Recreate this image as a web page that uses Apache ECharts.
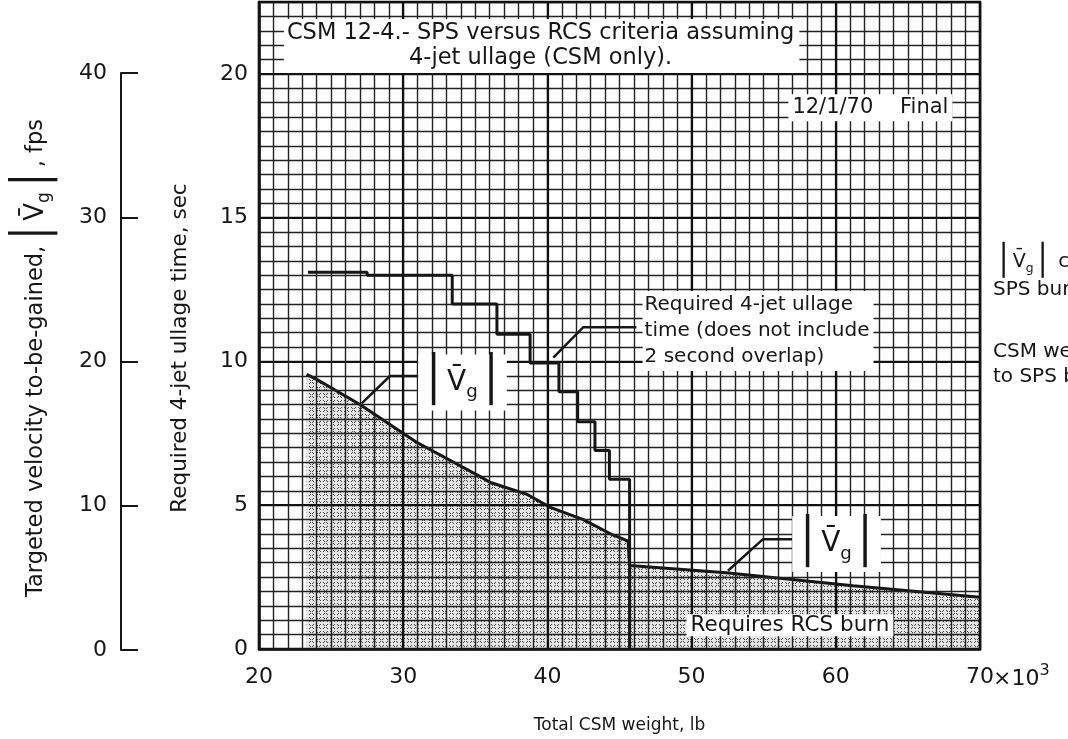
<!DOCTYPE html>
<html>
<head>
<meta charset="utf-8">
<script src="https://cdn.jsdelivr.net/npm/echarts@6/dist/echarts.min.js"></script>
<style>
  html, body { margin: 0; padding: 0; background: #fff; }
  #chart { width: 1068px; height: 739px; }
</style>
</head>
<body>
<div id="chart"></div>
<script>
// total CSM weight, thousands of lb
const ullageWeights = [23.4, 27.5, 33.4, 36.5, 38.8, 40.8, 42.1, 43.3, 44.3, 45.7]
// required 4-jet ullage time, sec (step curve)
const ullageTimes = [13.1, 13.0, 12.0, 10.95, 9.95, 8.95, 7.9, 6.9, 5.9, 0]

// |Vg| criterion, fps
const vgWeights = [23.3, 24.0, 27.0, 30.9, 35.5, 36.0, 38.6, 40.2, 42.5, 44.3, 45.6, 45.7, 52.4, 61.2, 70.0]
const vgFps = [19.1, 18.75, 17.0, 14.4, 11.9, 11.6, 10.75, 9.85, 9.0, 8.05, 7.5, 5.8, 5.3, 4.4, 3.6]

const xTicks = [20, 30, 40, 50, 60, 70]
const secTicks = [0, 5, 10, 15, 20]
const fpsTicks = [0, 10, 20, 30, 40]

const FONT = 'DejaVu Sans'
const INK = '#161616'

// stipple used under the |Vg| curve
const tile = document.createElement('canvas')
tile.width = 7
tile.height = 7
const tctx = tile.getContext('2d')
tctx.fillStyle = 'rgba(0,0,0,0.10)'
tctx.fillRect(0, 0, 7, 7)
tctx.fillStyle = 'rgba(40,40,40,0.85)'
;[[1, 1], [2, 2], [4, 4], [5, 5], [5, 1], [4, 2], [2, 4], [1, 5]].forEach(p => tctx.fillRect(p[0], p[1], 1, 1))

const chart = echarts.init(document.getElementById('chart'), null, { renderer: 'canvas' })

const option = {
  animation: false,
  backgroundColor: '#fff',
  grid: [
    { left: 259, right: 88, top: 2, bottom: 89, show: true, borderColor: INK, borderWidth: 2.5, backgroundColor: 'transparent', z: 1 },
    { left: 121, width: 1, top: 73, bottom: 89 }
  ],
  xAxis: [
    {
      gridIndex: 0, type: 'value', min: 20, max: 70, interval: 1, z: 1,
      axisLine: { show: true, lineStyle: { color: INK, width: 2.5 } },
      axisTick: { show: false }, axisLabel: { show: false },
      splitLine: { show: true, lineStyle: { color: '#222', width: 1.4 } },
      name: 'Total CSM weight, lb', nameLocation: 'middle', nameGap: 68,
      nameTextStyle: { fontFamily: FONT, fontSize: 17, color: INK }
    },
    {
      gridIndex: 0, type: 'value', min: 20, max: 70, interval: 10, position: 'bottom', z: 1,
      axisLine: { show: false }, axisTick: { show: false },
      axisLabel: {
        fontFamily: FONT, fontSize: 22, color: INK, margin: 17,
        formatter: v => (xTicks.indexOf(v) >= 0 ? String(v) : '')
      },
      splitLine: { show: true, lineStyle: { color: '#111', width: 2.2 } }
    },
    { gridIndex: 1, type: 'value', show: false, min: 0, max: 1 }
  ],
  yAxis: [
    {
      gridIndex: 0, type: 'value', min: 0, max: 22.5, interval: 0.5, z: 1,
      axisLine: { show: true, lineStyle: { color: INK, width: 2.5 } },
      axisTick: { show: false }, axisLabel: { show: false },
      splitLine: { show: true, lineStyle: { color: '#222', width: 1.4 } }
    },
    {
      gridIndex: 0, type: 'value', min: 0, max: 22.5, interval: 5, position: 'left', z: 1,
      axisLine: { show: false }, axisTick: { show: false },
      axisLabel: {
        fontFamily: FONT, fontSize: 22, color: INK, margin: 11,
        formatter: v => (secTicks.indexOf(v) >= 0 ? String(v) : '')
      },
      splitLine: { show: true, lineStyle: { color: '#111', width: 2.2 } }
    },
    { gridIndex: 0, type: 'value', min: 0, max: 45, show: false },
    {
      gridIndex: 1, type: 'value', min: 0, max: 40, interval: 10, position: 'left',
      axisLine: { show: true, lineStyle: { color: INK, width: 2 } },
      axisTick: { show: true, inside: true, length: 17, lineStyle: { color: INK, width: 2 } },
      axisLabel: {
        fontFamily: FONT, fontSize: 22, color: INK, margin: 14,
        formatter: v => (fpsTicks.indexOf(v) >= 0 ? String(v) : '')
      },
      splitLine: { show: false }
    }
  ],
  series: [
    {
      name: 'vg',
      type: 'line',
      xAxisIndex: 0, yAxisIndex: 2,
      data: vgWeights.map((w, i) => [w, vgFps[i]]),
      symbol: 'none',
      lineStyle: { color: INK, width: 3 },
      areaStyle: { color: { image: tile, repeat: 'repeat' }, opacity: 1 },
      z: 0
    },
    {
      name: 'ullage',
      type: 'line',
      xAxisIndex: 0, yAxisIndex: 0,
      data: ullageWeights.map((w, i) => [w, ullageTimes[i]]),
      step: 'end',
      symbol: 'none',
      lineStyle: { color: INK, width: 3 },
      z: 4
    }
  ]
}

chart.setOption(option)

// annotations, placed in data coordinates (weight, sec)
const px = p => chart.convertToPixel({ xAxisIndex: 0, yAxisIndex: 0 }, p)
const f = size => size + 'px "' + FONT + '"'

const vgRich = (size, textSize) => ({
  b: { fontFamily: FONT, fontSize: size * 1.6, fill: INK, lineHeight: size * 2 },
  v: { fontFamily: FONT, fontSize: size, fill: INK },
  g: { fontFamily: FONT, fontSize: size * 0.65, fill: INK, padding: [size * 0.7, 0, 0, 0] },
  t: { fontFamily: FONT, fontSize: textSize || 20, fill: INK }
})
const vgText = '{b|\u2502}{v|V\u0304}{g|g}{b|\u2502}'

const box = (at, text, opts) => {
  const p = px(at)
  return {
    type: 'text', z: 50,
    style: Object.assign({
      x: p[0], y: p[1], text: text,
      font: f(18), fill: INK,
      align: 'center', verticalAlign: 'middle',
      backgroundColor: '#fff', padding: [3, 5, 3, 5]
    }, opts || {})
  }
}
const leader = pts => ({
  type: 'polyline', z: 49,
  shape: { points: pts.map(px) },
  style: { stroke: INK, lineWidth: 2.5, fill: null }
})

const x70 = px([70, 0])

const graphic = [
  box([39.6, 20.97], 'CSM 12-4.- SPS versus RCS criteria assuming\n4-jet ullage (CSM only).', { font: f(22.5), lineHeight: 25, padding: [2, 5, 2, 3] }),
  box([62.4, 18.82], '12/1/70    Final', { font: f(21), padding: [3, 4, 3, 4] }),
  leader([[46.17, 11.19], [42.49, 11.19], [40.41, 10.13]]),
  box([46.6, 11.06], 'Required 4-jet ullage\ntime (does not include\n2 second overlap)', { font: f(20), lineHeight: 26, align: 'left', padding: [1, 4, 1, 2] }),
  leader([[32.32, 9.49], [29.08, 9.49], [27.12, 8.54]]),
  box([34.11, 9.27], vgText, { rich: vgRich(28), padding: [0, 2, 0, 2] }),
  leader([[58.21, 3.82], [54.95, 3.82], [52.52, 2.72]]),
  box([60.05, 3.65], vgText, { rich: vgRich(28), padding: [0, 2, 0, 2] }),
  box([56.82, 0.83], 'Requires RCS burn', { font: f(21.5), padding: [0, 4, 0, 4] }),
  // right-hand notes, cut by the page edge
  box([71.0, 13.47], vgText + '{t| criteria}', { rich: vgRich(19, 20), align: 'left', padding: 0, backgroundColor: null }),
  box([70.9, 12.5], 'SPS burn', { font: f(20), align: 'left', padding: 0, backgroundColor: null }),
  box([70.9, 10.35], 'CSM weight', { font: f(20), align: 'left', padding: 0, backgroundColor: null }),
  box([70.9, 9.48], 'to SPS burn', { font: f(20), align: 'left', padding: 0, backgroundColor: null }),
  // "x10^3" after the 70 tick label
  {
    type: 'text', z: 50,
    style: {
      x: x70[0] + 13, y: x70[1] + 30, text: '{a|\u00d710}{s|3}',
      align: 'left', verticalAlign: 'middle',
      rich: {
        a: { fontFamily: FONT, fontSize: 22, fill: INK },
        s: { fontFamily: FONT, fontSize: 16, fill: INK, padding: [0, 0, 16, 0] }
      }
    }
  },
  // axis titles
  {
    type: 'text', z: 50, x: 180, y: 348, rotation: Math.PI / 2,
    style: { x: 0, y: 0, text: 'Required 4-jet ullage time, sec', font: f(21.5), fill: INK, align: 'center', verticalAlign: 'middle' }
  },
  {
    type: 'text', z: 50, x: 36, y: 358, rotation: Math.PI / 2,
    style: {
      x: 0, y: 0, align: 'center', verticalAlign: 'middle',
      text: '{t|Targeted velocity to-be-gained,}' + vgText + '{t|, fps}',
      rich: vgRich(26, 22.5)
    }
  }
]

chart.setOption({ graphic: graphic })
</script>
</body>
</html>
